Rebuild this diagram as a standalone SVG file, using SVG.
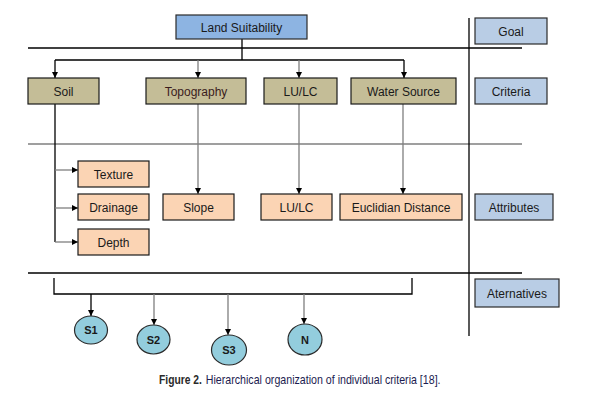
<svg xmlns="http://www.w3.org/2000/svg" width="594" height="404" viewBox="0 0 594 404">
<style>
text{font-family:"Liberation Sans",Arial,sans-serif;font-size:12px;fill:#1a1a1a;text-anchor:middle}
.goal rect{fill:#8db4e2;stroke:#2a2a2a;stroke-width:1.2}
.lvl rect{fill:#b9cde5;stroke:#2a2a2a;stroke-width:1.2}
.crit rect{fill:#c4bd97;stroke:#1a1a1a;stroke-width:1.2}
.attr rect{fill:#fbd4b4;stroke:#1a1a1a;stroke-width:1.2}
.alt ellipse{fill:#93cddd;stroke:#2a2a2a;stroke-width:1.2}
.alt text{font-weight:bold;font-size:11px}
.k{stroke:#000;stroke-width:1.3;fill:none}
.g{stroke:#7f7f7f;stroke-width:1.3;fill:none}
.a{marker-end:url(#ah)}
.cap{text-anchor:start;font-size:13px}
</style>
<defs>
<marker id="ah" markerUnits="userSpaceOnUse" markerWidth="7" markerHeight="7" refX="6" refY="3.5" orient="auto">
<path d="M0,0.5 L6,3.5 L0,6.5 z" fill="#000"/>
</marker>
</defs>
<rect width="594" height="404" fill="#fff"/>
<g id="separators">
<line class="k" x1="28" y1="48" x2="522" y2="48"/>
<line class="g" x1="28" y1="144" x2="522" y2="144"/>
<line class="k" x1="28" y1="273" x2="522" y2="273"/>
<line class="k" x1="469" y1="18" x2="469" y2="336"/>
</g>
<g id="connectors">
<path class="k" d="M242,39 V60 M55,60 H404"/>
<line class="k a" x1="55" y1="60" x2="55" y2="78"/>
<line class="g a" x1="198" y1="60" x2="198" y2="78"/>
<line class="g a" x1="299" y1="60" x2="299" y2="78"/>
<line class="k a" x1="404" y1="60" x2="404" y2="78"/>
<path class="k" d="M55,104 V242"/>
<line class="g a" x1="55" y1="170" x2="78" y2="170"/>
<line class="g a" x1="55" y1="208" x2="78" y2="208"/>
<line class="g a" x1="55" y1="242" x2="78" y2="242"/>
<line class="g a" x1="198" y1="104" x2="198" y2="194"/>
<line class="g a" x1="299" y1="104" x2="299" y2="194"/>
<line class="g a" x1="403" y1="104" x2="403" y2="194"/>
<path class="k" d="M54,278 V294 H412 V278"/>
<line class="k a" x1="91" y1="294" x2="91" y2="316"/>
<line class="g a" x1="154" y1="294" x2="154" y2="325"/>
<line class="g a" x1="228" y1="294" x2="228" y2="335"/>
<line class="g a" x1="304" y1="294" x2="304" y2="324"/>
</g>
<g id="land-suitability" class="goal"><rect x="176" y="15" width="131" height="24"/><text x="241.5" y="31.5">Land Suitability</text></g>
<g id="goal" class="lvl"><rect x="475" y="18" width="72" height="26"/><text x="511" y="35.5">Goal</text></g>
<g id="criteria" class="lvl"><rect x="475" y="78" width="72" height="26"/><text x="511" y="95.5">Criteria</text></g>
<g id="attributes" class="lvl"><rect x="475" y="194" width="78" height="26"/><text x="514" y="211.5">Attributes</text></g>
<g id="aternatives" class="lvl"><rect x="475" y="279" width="84" height="28"/><text x="517" y="297.5">Aternatives</text></g>
<g id="soil" class="crit"><rect x="28" y="78" width="71" height="26"/><text x="63.5" y="95.5">Soil</text></g>
<g id="topography" class="crit"><rect x="146" y="78" width="100" height="26"/><text x="196" y="95.5" style="fill:#3a1c1c">Topography</text></g>
<g id="lulc" class="crit"><rect x="264" y="78" width="73" height="26"/><text x="300.5" y="95.5">LU/LC</text></g>
<g id="water-source" class="crit"><rect x="351" y="78" width="105" height="26"/><text x="403.5" y="95.5">Water Source</text></g>
<g id="texture" class="attr"><rect x="78" y="161" width="71" height="26"/><text x="113.5" y="178.5">Texture</text></g>
<g id="drainage" class="attr"><rect x="78" y="194" width="71" height="26"/><text x="113.5" y="211.5">Drainage</text></g>
<g id="depth" class="attr"><rect x="78" y="229" width="71" height="26"/><text x="113.5" y="246.5">Depth</text></g>
<g id="slope" class="attr"><rect x="163" y="194" width="71" height="26"/><text x="198.5" y="211.5">Slope</text></g>
<g id="lulc-attr" class="attr"><rect x="261" y="194" width="71" height="26"/><text x="296.5" y="211.5">LU/LC</text></g>
<g id="euclidian-distance" class="attr"><rect x="340" y="194" width="122" height="26"/><text x="401" y="211.5">Euclidian Distance</text></g>
<g id="s1" class="alt"><ellipse cx="91" cy="330" rx="16.5" ry="14"/><text x="91" y="334">S1</text></g>
<g id="s2" class="alt"><ellipse cx="153.5" cy="339.5" rx="16.5" ry="14.5"/><text x="153.5" y="343.5">S2</text></g>
<g id="s3" class="alt"><ellipse cx="229" cy="350" rx="17.5" ry="15"/><text x="229" y="354">S3</text></g>
<g id="n" class="alt"><ellipse cx="305" cy="339.5" rx="17" ry="15.5"/><text x="305" y="343.5">N</text></g>
<g id="caption" transform="translate(159,384) scale(0.78,1)">
<text class="cap" x="0" y="0" style="font-weight:bold;fill:#2a2a2a" textLength="55" lengthAdjust="spacingAndGlyphs">Figure 2.</text>
<text class="cap" x="60" y="0" style="fill:#1c1c50" textLength="301" lengthAdjust="spacingAndGlyphs">Hierarchical organization of individual criteria [18].</text>
</g>
</svg>
